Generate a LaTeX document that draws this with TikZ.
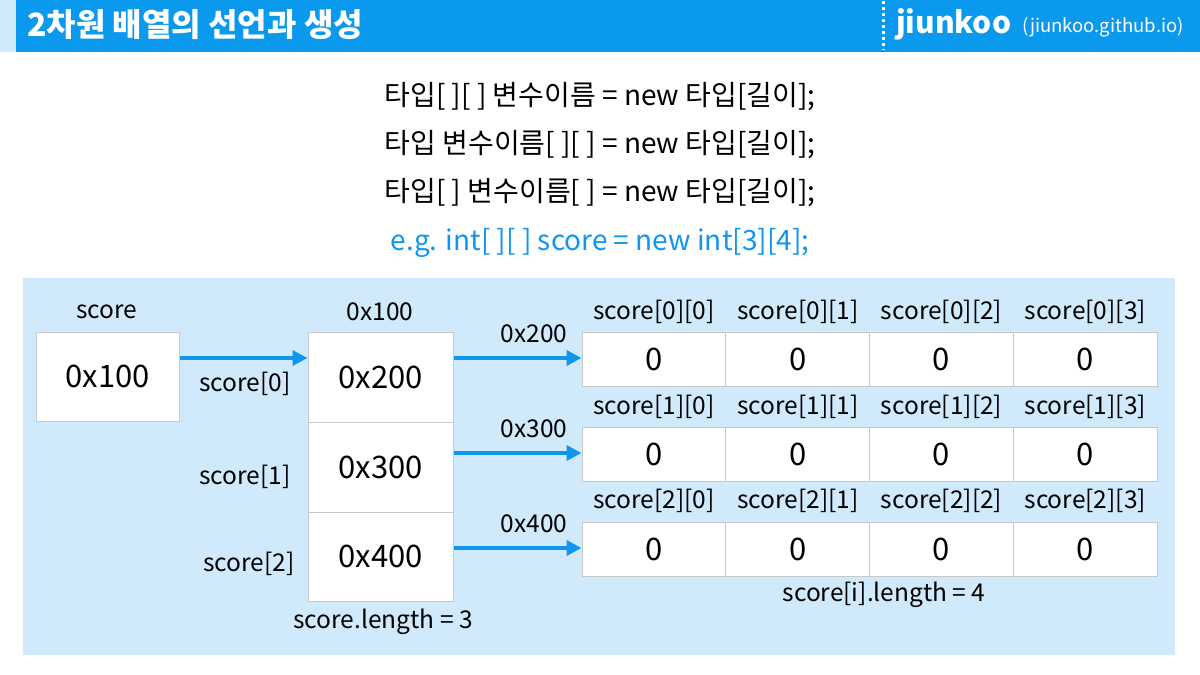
\documentclass[tikz,border=0pt]{standalone}
\usepackage{fontspec}
\setmainfont{Noto Sans CJK KR}
\usetikzlibrary{arrows.meta}
\definecolor{hdrblue}{HTML}{0B99EE}
\definecolor{panelblue}{HTML}{D0E9FB}
\definecolor{cellgray}{HTML}{C8C8C8}
\definecolor{arrowblue}{HTML}{1196EE}
\tikzset{
  cell/.style={draw=cellgray, line width=1pt, fill=white, minimum width=144pt, inner sep=0pt, font=\fontsize{31}{34}\selectfont},
  lbl/.style={inner sep=0pt, font=\fontsize{24.5}{28}\selectfont},
  code/.style={inner sep=0pt, font=\fontsize{28}{32}\selectfont},
  arr/.style={arrowblue, line width=4pt, -{Triangle[length=15pt,width=15pt]}},
}
\begin{document}
\begin{tikzpicture}[x=1pt,y=-1pt]
\useasboundingbox (0,0) rectangle (1200,675);
\fill[white] (0,0) rectangle (1200,675);
% header
\fill[panelblue] (0,0) rectangle (16,52);
\fill[hdrblue] (16,0) rectangle (1200,52);
\node[anchor=west, inner sep=0pt, text=white, font=\fontsize{32}{35}\selectfont\bfseries] (title) at (27,25) {2차원 배열의 선언과 생성};
\draw[white, line width=3pt, dash pattern=on 3pt off 3pt] (883,1) -- (883,50);
\node[anchor=west, inner sep=0pt, text=white, font=\fontsize{30}{33}\selectfont\bfseries] (brand) at (896,24) {jiunkoo};
\node[anchor=east, inner sep=0pt, text=white, font=\fontsize{18.5}{21}\selectfont] (site) at (1184,27) {(jiunkoo.github.io)};
% code lines
\node[code] (c1) at (600,97) {타입[ ][ ] 변수이름 = new 타입[길이];};
\node[code] (c2) at (600,145) {타입 변수이름[ ][ ] = new 타입[길이];};
\node[code] (c3) at (600,193) {타입[ ] 변수이름[ ] = new 타입[길이];};
\node[code, text=arrowblue] (c4) at (600,243) {e.g. int[ ][ ] score = new int[3][4];};
% panel
\fill[panelblue] (23,278) rectangle (1175,655);
% score variable
\node[cell, minimum width=143pt, minimum height=89pt] (score) at (107.5,376.5) {0x100};
\node[lbl] (scorelbl) at (107,312) {score};
% outer array
\node[cell, minimum width=145pt, minimum height=90pt] (a0) at (380.5,377) {0x200};
\node[cell, minimum width=145pt, minimum height=90pt] (a1) at (380.5,467) {0x300};
\node[cell, minimum width=145pt, minimum height=89pt] (a2) at (380.5,556.5) {0x400};
\node[lbl] (alabel) at (380,312) {0x100};
\node[lbl] (s0) at (245,384) {score[0]};
\node[lbl] (s1) at (245,477) {score[1]};
\node[lbl] (s2) at (249,564) {score[2]};
\node[lbl] (alen) at (383,622) {score.length = 3};
% inner arrays
\foreach \r/\y/\ly/\addr in {0/359/312/0x200, 1/454/407/0x300, 2/549/501/0x400}{
  \foreach \c in {0,1,2,3}{
    \node[cell, minimum height=54pt] (r\r c\c) at ({654+143.75*\c},\y) {0};
    \node[lbl] (l\r c\c) at ({654+143.75*\c},\ly) {score[\r][\c]};
  }
  \node[lbl] (addr\r) at (534,{\y-25}) {\addr};
}
\node[lbl] (ilen) at (884,595) {score[i].length = 4};
% arrows
\draw[arr] (score.east |- 0,358) -- (a0.west |- 0,358);
\draw[arr] (a0.east |- 0,358) -- (r0c0.west |- 0,358);
\draw[arr] (a1.east |- 0,453) -- (r1c0.west |- 0,453);
\draw[arr] (a2.east |- 0,548) -- (r2c0.west |- 0,548);
\end{tikzpicture}
\end{document}
